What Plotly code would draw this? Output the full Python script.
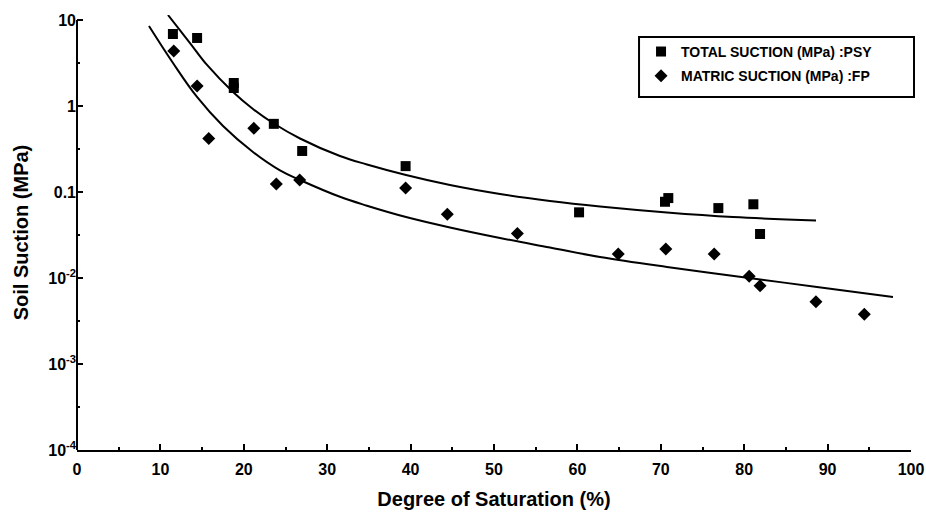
import plotly.graph_objects as go

# Measured points: degree of saturation (%) vs soil suction (MPa)
sat_total = [11.5, 14.4, 18.8, 18.8, 23.6, 27.0, 39.4, 60.2, 70.5, 70.9, 76.9, 81.1, 81.9]
suc_total = [6.87, 6.18, 1.85, 1.62, 0.62, 0.30, 0.20, 0.058, 0.077, 0.085, 0.065, 0.072, 0.0325]

sat_matric = [11.6, 14.4, 15.8, 21.2, 23.9, 26.7, 39.4, 44.4, 52.8, 64.9, 70.6, 76.4, 80.6, 81.9, 88.6, 94.4]
suc_matric = [4.36, 1.71, 0.42, 0.55, 0.124, 0.138, 0.111, 0.055, 0.033, 0.019, 0.0217, 0.019, 0.0105, 0.0081, 0.0053, 0.0038]

# Fitted characteristic curves (sampled along each curve)
fit_total_x = [10.91, 13.55, 15.59, 18.71, 21.10, 23.50, 26.74, 31.53, 34.77, 39.45,
               44.72, 50.72, 56.71, 62.71, 70.74, 78.66, 88.61]
fit_total_y = [11.43, 5.40, 3.00, 1.455, 0.923, 0.634, 0.419, 0.2622, 0.2089, 0.1576,
               0.1206, 0.0948, 0.0786, 0.0678, 0.0578, 0.0512, 0.0466]

fit_matric_x = [8.63, 11.51, 14.39, 17.51, 21.10, 24.34, 26.74, 31.53, 34.77, 39.45,
                44.72, 50.72, 56.71, 62.71, 70.74, 80.58, 88.73, 97.84]
fit_matric_y = [8.51, 3.16, 1.273, 0.585, 0.2918, 0.1784, 0.1379, 0.0879, 0.0693, 0.0512,
                0.0387, 0.0292, 0.02263, 0.01755, 0.01342, 0.0100, 0.00786, 0.00601]

x_ticks = [0, 10, 20, 30, 40, 50, 60, 70, 80, 90, 100]
x_minor = [5, 15, 25, 35, 45, 55, 65, 75, 85, 95]
y_ticks = [1e-4, 1e-3, 1e-2, 0.1, 1, 10]
y_ticktext = ["10<sup>-4</sup>", "10<sup>-3</sup>", "10<sup>-2</sup>", "0.1", "1", "10"]
y_minor = [3.162e-4, 3.162e-3, 3.162e-2, 0.3162, 3.162]

legend_total = "TOTAL SUCTION (MPa) :PSY"
legend_matric = "MATRIC SUCTION (MPa) :FP"

FONT = "Liberation Sans, Arial, Helvetica, sans-serif"

fig = go.Figure()

fig.add_trace(go.Scatter(
    x=fit_total_x, y=fit_total_y, mode="lines",
    line=dict(color="black", width=2, shape="spline", smoothing=1.1),
    showlegend=False, hoverinfo="skip"))
fig.add_trace(go.Scatter(
    x=fit_matric_x, y=fit_matric_y, mode="lines",
    line=dict(color="black", width=2, shape="spline", smoothing=1.1),
    showlegend=False, hoverinfo="skip"))

fig.add_trace(go.Scatter(
    x=sat_total, y=suc_total, mode="markers", name=legend_total,
    legendgroup="total",
    marker=dict(symbol="square", size=10, color="black")))
fig.add_trace(go.Scatter(
    x=sat_matric, y=suc_matric, mode="markers", name=legend_matric,
    legendgroup="matric",
    marker=dict(symbol="diamond", size=10, color="black")))

# left axis line, from the 1e-4 level up to the 10 level
fig.add_shape(type="line", xref="paper", yref="paper", x0=0, x1=0, y0=0, y1=0.9885,
              line=dict(color="black", width=2))
# legend frame
fig.add_shape(type="rect", xref="paper", yref="paper",
              x0=0.6739, x1=1.0036, y0=0.8115, y1=0.9494,
              line=dict(color="black", width=2), fillcolor="rgba(0,0,0,0)")

fig.update_layout(
    width=926, height=516,
    margin=dict(l=77, r=15, t=15, b=66),
    paper_bgcolor="white", plot_bgcolor="white",
    font=dict(family=FONT, color="black"),
    showlegend=True,
    legend=dict(
        x=0.6763, y=0.9519, xanchor="left", yanchor="top",
        borderwidth=0, bgcolor="rgba(0,0,0,0)",
        font=dict(family=FONT, size=14, weight="bold", color="black"),
        traceorder="grouped", tracegroupgap=3,
    ),
    xaxis=dict(
        range=[0, 100], showgrid=False, zeroline=False, automargin=False,
        showline=True, linecolor="black", linewidth=2,
        ticks="inside", ticklen=6, tickwidth=2, tickcolor="black",
        tickvals=x_ticks, ticklabelstandoff=4,
        tickfont=dict(family=FONT, size=16, weight="bold"),
        minor=dict(tickvals=x_minor, ticks="inside", ticklen=3, tickwidth=2, tickcolor="black"),
        title=dict(text="Degree of Saturation (%)", standoff=15,
                   font=dict(family=FONT, size=20, weight="bold")),
    ),
    yaxis=dict(
        type="log", range=[-4, 1.0581], showgrid=False, zeroline=False, automargin=False,
        showline=False,
        ticks="inside", ticklen=6, tickwidth=2, tickcolor="black",
        tickvals=y_ticks, ticktext=y_ticktext,
        tickfont=dict(family=FONT, size=16, weight="bold"),
        minor=dict(tickvals=y_minor, ticks="inside", ticklen=3, tickwidth=2, tickcolor="black"),
        title=dict(text="Soil Suction (MPa)", standoff=14,
                   font=dict(family=FONT, size=20, weight="bold")),
    ),
)

fig.write_html("out.html")
